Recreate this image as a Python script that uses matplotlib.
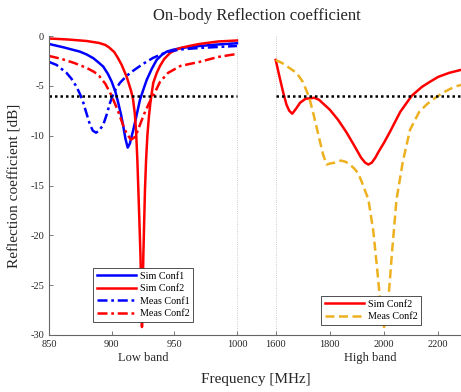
import numpy as np
import matplotlib
matplotlib.use("Agg")
import matplotlib.pyplot as plt

plt.rcParams['font.family'] = ['Liberation Serif', 'DejaVu Serif']

# Low band (MHz, dB)
f_sim1 = [850, 862, 874.7, 880, 885.4, 889, 893.3, 897, 900, 903, 905.3, 907.5, 909.3, 911,
          912.8, 914.5, 917.3, 920, 922.6, 925.5, 928, 932, 935.9, 940, 943.9, 949, 954.6,
          962, 970.5, 985, 1000]
s_sim1 = [-0.8, -1.15, -1.57, -1.85, -2.23, -2.6, -3.07, -3.8, -4.57, -5.6, -6.73, -7.9,
          -9.07, -10.3, -11.2, -10.8, -9.4, -7.9, -6.4, -5.3, -4.4, -3.3, -2.4, -1.9, -1.57,
          -1.38, -1.23, -1.1, -1.0, -0.85, -0.73]

f_sim2 = [850, 865, 880, 890, 895, 898, 902, 905, 908, 910, 912, 914, 915.5, 917, 918.5,
          919.5, 920.5, 921.3, 922.2, 923, 923.6, 924.2, 924.8, 925.3, 926, 926.6, 927.5,
          928.5, 929.8, 931, 933.2, 936, 938.6, 942, 946.6, 951, 955, 962, 970, 985, 1000]
s_sim2 = [-0.25, -0.35, -0.5, -0.7, -0.9, -1.15, -1.6, -2.2, -2.9, -3.5, -4.1, -4.9, -5.5,
          -6.3, -7.8, -9.6, -12.4, -15.4, -18.8, -22.0, -25.6, -29.2, -25.6, -22.0, -18.4,
          -15.4, -12.4, -10.0, -8.0, -6.6, -4.7, -3.7, -3.0, -2.3, -1.7, -1.4, -1.2, -1.0,
          -0.8, -0.55, -0.45]

f_meas1 = [850, 856, 864, 868, 872, 875, 877.4, 880, 882.7, 885, 887.5, 890, 893.3, 896,
           898.7, 902, 906.6, 912, 917, 925, 933, 944, 955, 970, 985, 1000]
s_meas1 = [-2.6, -2.9, -3.7, -4.3, -5.1, -5.9, -6.7, -7.8, -8.9, -9.5, -9.7, -9.5, -8.9,
           -7.9, -6.7, -5.6, -4.7, -4.0, -3.5, -2.8, -2.2, -1.6, -1.35, -1.2, -1.1, -1.0]

f_meas2 = [850, 860, 870, 880, 886, 890, 895, 900, 905, 909, 912, 915.5, 919, 922, 926,
           930, 934, 938.6, 945, 955, 970, 985, 1000]
s_meas2 = [-2.0, -2.3, -2.7, -3.2, -3.6, -4.0, -4.8, -6.0, -7.5, -8.9, -9.8, -10.4, -10.1,
           -9.1, -7.8, -6.7, -5.8, -4.6, -3.7, -3.0, -2.6, -2.1, -1.8]

# High band (MHz, dB)
f_hsim2 = [1600, 1615, 1628, 1640, 1650, 1661, 1675, 1690, 1710, 1743, 1760, 1780, 1800, 1830,
           1862, 1890, 1915, 1930, 1942, 1955, 1968, 1980, 2000, 2022, 2060, 2102, 2140, 2169,
           2200, 2240, 2284]
s_hsim2 = [-2.4, -4.2, -5.7, -6.9, -7.5, -7.8, -7.3, -6.7, -6.3, -6.2, -6.4, -6.9, -7.4, -8.4,
           -9.7, -11.0, -12.2, -12.7, -12.9, -12.7, -12.2, -11.6, -10.7, -9.6, -7.6, -6.0, -5.1,
           -4.6, -4.1, -3.7, -3.4]

f_hmeas2 = [1600, 1630, 1650, 1677, 1700, 1723, 1740, 1760, 1775, 1788, 1800, 1820, 1840, 1856,
            1870, 1890, 1905, 1920, 1942, 1960, 1975, 1985, 2000, 2008, 2016, 2030, 2046, 2070,
            2096, 2130, 2160, 2194, 2230, 2260, 2284]
s_hmeas2 = [-2.4, -2.8, -3.2, -3.7, -4.6, -6.1, -7.9, -10.2, -11.9, -12.9, -12.8, -12.7, -12.5,
            -12.6, -12.8, -13.3, -13.8, -14.8, -16.4, -19.5, -23.5, -26.4, -29.2, -28.0, -26.4,
            -21.5, -16.4, -12.5, -9.4, -7.6, -6.8, -6.1, -5.5, -5.1, -4.9]

threshold = -6
yticks = [0, -5, -10, -15, -20, -25, -30]
low_ticks = [850, 900, 950, 1000]
high_ticks = [1600, 1800, 2000, 2200]

BLUE = '#0000FF'
RED = '#FF0000'
YELLOW = '#EDB120'
TXT = '#262626'
SPINE = '#666666'
dashdot = (0, (4.0, 1.5, 1.1, 1.5))

fig = plt.figure(figsize=(4.61, 3.92), dpi=100)
W, H = 461, 392
ax1 = fig.add_axes([49 / W, 1 - 335 / H, (256 - 49) / W, 299 / H])
ax2 = fig.add_axes([256 / W, 1 - 335 / H, (461 - 256) / W, 299 / H])

lw = 1.8
ax1.plot(f_sim1, s_sim1, color=BLUE, lw=lw, label='Sim Conf1')
ax1.plot(f_sim2, s_sim2, color=RED, lw=lw, label='Sim Conf2')
ax1.plot(f_meas1, s_meas1, color=BLUE, lw=lw, ls=dashdot, label='Meas Conf1')
ax1.plot(f_meas2, s_meas2, color=RED, lw=lw, ls=dashdot, label='Meas Conf2')
ax1.plot([850, 1000], [threshold, threshold], color='black', lw=1.8, ls=(0, (1, 1.2)))

ax2.plot(f_hsim2, s_hsim2, color=RED, lw=lw, label='Sim Conf2')
ax2.plot(f_hmeas2, s_hmeas2, color=YELLOW, lw=lw, ls=(0, (3.6, 1.8)), label='Meas Conf2')
ax2.plot([1600, 2300], [threshold, threshold], color='black', lw=1.8, ls=(0, (1, 1.2)))

ax1.axvline(1000, color='#BBBBBB', lw=0.6, ls=':', zorder=0)
ax2.axvline(1600, color='#BBBBBB', lw=0.6, ls=':', zorder=0)

ax1.set_xlim(850, 1015.2)
ax2.set_xlim(1527.3, 2284)
for ax in (ax1, ax2):
    ax.set_ylim(-30, 0)
    ax.spines['top'].set_visible(False)
    ax.spines['right'].set_visible(False)
    ax.spines['bottom'].set_color(SPINE)
    ax.spines['left'].set_color(SPINE)
    ax.tick_params(direction='in', length=3, width=0.6, colors=SPINE,
                   labelcolor=TXT, labelsize=7.5)
    ax.set_facecolor('none')

ax1.set_xticks(low_ticks)
ax1.set_yticks(yticks)
ax1.set_yticklabels([str(v) for v in yticks])
ax2.set_xticks(high_ticks)
ax2.spines['left'].set_visible(False)
ax2.set_yticks([])

ax1.set_ylabel('Reflection coefficient [dB]', fontsize=11, color=TXT, labelpad=6)
ax1.text(925, -0.077, 'Low band', transform=ax1.get_xaxis_transform(),
         ha='center', va='center', fontsize=9, color=TXT)
ax2.text(1950, -0.077, 'High band', transform=ax2.get_xaxis_transform(),
         ha='center', va='center', fontsize=9, color=TXT)
fig.text(256 / W, 1 - 380 / H, 'Frequency [MHz]', ha='center', va='center',
         fontsize=11, color=TXT)
fig.text(256.7 / W, 1 - 16 / H, 'On-body Reflection coefficient', ha='center', va='center',
         fontsize=12, color=TXT)

leg_kw = dict(fontsize=7.3, handlelength=3.9, frameon=True, fancybox=False, framealpha=1,
              borderpad=0.35, labelspacing=0.35, handletextpad=0.4, borderaxespad=0,
              bbox_transform=fig.transFigure, loc='lower left')
leg1 = ax1.legend(bbox_to_anchor=(93 / W, 1 - 322 / H), **leg_kw)
leg2 = ax2.legend(bbox_to_anchor=(321 / W, 1 - 325 / H), **leg_kw)
for leg in (leg1, leg2):
    leg.get_frame().set_edgecolor('#333333')
    leg.get_frame().set_linewidth(0.6)

fig.savefig('out.png', dpi=100)
